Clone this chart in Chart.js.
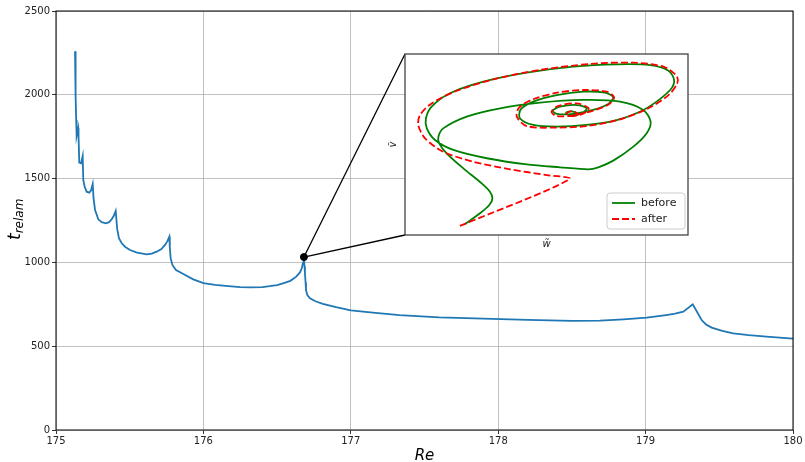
<!DOCTYPE html>
<html>
<head>
<meta charset="utf-8">
<script src="https://cdn.jsdelivr.net/npm/chart.js@4.4.0/dist/chart.umd.min.js"></script>
<style>
  body { margin: 0; background: #fff; }
  #wrap { position: relative; width: 805px; height: 462px; }
  #main { position: absolute; left: 0; top: 0; }
  #inset { position: absolute; left: 380px; top: 44px; }
</style>
</head>
<body>
<div id="wrap">
  <canvas id="main" width="805" height="462"></canvas>
  <canvas id="inset" width="315" height="210"></canvas>
</div>
<script>
// main curve: relaminarisation time vs Re
const re = [
  175.129, 175.133, 175.137, 175.140, 175.151, 175.153, 175.158, 175.170, 175.181,
  175.185, 175.195, 175.208, 175.226, 175.238, 175.249,
  175.255, 175.265, 175.287, 175.31, 175.339, 175.36, 175.378, 175.392, 175.405,
  175.415, 175.427, 175.446, 175.47, 175.502, 175.55, 175.615, 175.65, 175.683, 175.715, 175.740, 175.755, 175.769,
  175.772, 175.778, 175.79, 175.814, 175.864, 175.931, 176.0, 176.08, 176.15, 176.25, 176.32, 176.4, 176.45,
  176.5, 176.54, 176.59, 176.63, 176.655, 176.667, 176.677, 176.682,
  176.686, 176.689, 176.693, 176.696, 176.705, 176.723, 176.76, 176.81, 176.9, 177.0, 177.15, 177.33, 177.6,
  177.9, 178.2, 178.5, 178.69, 178.85, 179.007, 179.14, 179.2, 179.256, 179.32,
  179.38, 179.41, 179.448, 179.52, 179.595, 179.7, 179.82, 180.0];
const tRelam = [
  2260, 1990, 1850, 1754, 1800, 1750, 1595, 1591, 1635,
  1492, 1450, 1422, 1416, 1430, 1468,
  1380, 1313, 1257, 1240, 1233, 1240, 1257, 1278, 1307,
  1200, 1144, 1114, 1092, 1074, 1058, 1048, 1052, 1064, 1080, 1104, 1125, 1153,
  1090, 1024, 985, 955, 931, 899, 877, 866, 860, 853, 851, 853, 858,
  865, 875, 890, 915, 940, 965, 1000, 1032,
  975, 935, 880, 835, 805, 786, 768, 752, 733, 714, 700, 686, 672,
  664, 657, 651, 652, 660, 670, 686, 694, 706, 750,
  656, 630, 611, 592, 577, 566, 557, 545];

// highlighted point
const markRe = [176.682];
const markT = [1032];

// axis ticks
const xTicks = [175, 176, 177, 178, 179, 180];
const yTicks = [0, 500, 1000, 1500, 2000, 2500];

// inset: phase portrait (w~, v~), arbitrary units
const beforeW = [21.2, 26.5, 29.8, 30.9, 30.0, 27.1, 20.6, 14.7, 12.1, 11.8, 13.5, 21.8, 33.6, 47.7, 63.0, 76.0,
  84.2, 86.8, 85.4, 80.7, 73.6, 68.3, 64.8, 54.8, 43.0, 28.9, 17.1, 10.6, 7.7, 7.4, 9.4, 15.9, 27.7, 43.0,
  59.5, 74.8, 86.6, 93.1, 95.1, 93.9, 88.9, 83.0, 74.8, 64.2, 53.6, 45.3, 40.6, 40.9, 45.3, 53.6, 63.0, 70.7,
  73.6, 71.8, 66.5, 59.5, 53.6, 52.2, 54.8, 60.7, 64.2, 62.4, 58.3, 56.9, 58.9, 60.7, 59.5];
const beforeV = [6.1, 12.0, 16.6, 20.3, 23.9, 28.5, 36.8, 45.1, 50.6, 54.3, 58.9, 65.4, 70.0, 73.1, 74.6, 73.7,
  69.1, 62.6, 56.2, 48.8, 41.1, 37.4, 36.3, 37.4, 39.0, 42.4, 47.0, 52.5, 58.9, 64.5, 70.9, 78.3, 84.7, 89.7,
  93.0, 94.3, 93.9, 90.8, 85.6, 80.5, 73.7, 68.1, 63.5, 60.8, 59.9, 60.8, 64.5, 69.4, 73.7, 77.3, 79.2, 78.6,
  76.1, 72.4, 69.1, 66.9, 66.9, 68.7, 70.9, 71.8, 70.0, 67.2, 66.1, 67.6, 68.3, 67.2, 66.5];
const afterW = [19.4, 58.1, 50.1, 37.1, 24.1, 13.5, 7.1, 4.7, 5.3, 9.4, 18.3, 31.2, 47.7, 65.4, 80.7, 91.3,
  96.0, 96.2, 93.1, 86.0, 76.0, 64.2, 52.4, 43.0, 39.5, 40.4, 45.3, 53.6, 63.0, 71.3, 73.9, 72.2, 66.5,
  59.5, 53.6, 51.8, 54.2, 60.7, 64.9, 62.8, 58.3, 57.1, 59.2, 61.0, 59.7];
const afterV = [5.0, 30.8, 33.1, 36.3, 40.5, 46.0, 53.4, 60.8, 66.3, 72.7, 79.7, 86.0, 91.2, 94.5, 95.2, 93.0,
  87.8, 83.8, 77.3, 70.0, 63.9, 60.2, 59.3, 60.2, 65.4, 70.5, 75.0, 78.6, 80.1, 79.2, 76.1, 72.4, 68.7,
  66.1, 65.7, 68.1, 71.3, 72.7, 70.0, 66.9, 65.7, 67.2, 68.5, 66.9, 66.1];

const legendLabels = ['before', 'after'];

Chart.defaults.font.family = 'DejaVu Sans';
Chart.defaults.font.size = 10;
Chart.defaults.color = '#222';

// where the inset axes sit on the page
const insetBox = { left: 405, top: 54, right: 688, bottom: 235 };

const mainDecor = {
  id: 'mainDecor',
  afterDraw(chart) {
    const ctx = chart.ctx;
    const a = chart.chartArea;
    ctx.save();
    ctx.strokeStyle = '#000';
    ctx.lineWidth = 1;
    ctx.strokeRect(a.left, a.top, a.right - a.left, a.bottom - a.top);

    // lines from marked point to inset corners
    const px = chart.scales.x.getPixelForValue(markRe[0]);
    const py = chart.scales.y.getPixelForValue(markT[0]);
    ctx.lineWidth = 1.3;
    ctx.beginPath();
    ctx.moveTo(px, py); ctx.lineTo(insetBox.left, insetBox.top);
    ctx.moveTo(px, py); ctx.lineTo(insetBox.left, insetBox.bottom);
    ctx.stroke();

    // axis titles
    ctx.fillStyle = '#000';
    ctx.font = 'italic 15px DejaVu Sans';
    ctx.textAlign = 'center';
    ctx.textBaseline = 'alphabetic';
    ctx.fillText('Re', (a.left + a.right) / 2, 460);

    ctx.translate(20, 240);
    ctx.rotate(-Math.PI / 2);
    ctx.textAlign = 'left';
    ctx.font = 'italic 17px DejaVu Sans';
    ctx.fillText('t', 0, 0);
    const wt = ctx.measureText('t').width;
    ctx.font = 'italic 12px DejaVu Sans';
    ctx.fillText('relam', wt, 3);
    ctx.restore();
  }
};

new Chart(document.getElementById('main'), {
  type: 'scatter',
  data: {
    datasets: [{
      data: markRe.map((x, i) => ({ x: x, y: markT[i] })),
      backgroundColor: '#000',
      borderColor: '#000',
      pointRadius: 3.5,
      order: 0
    }, {
      data: re.map((x, i) => ({ x: x, y: tRelam[i] })),
      showLine: true,
      borderColor: '#1f77b4',
      borderWidth: 1.8,
      pointRadius: 0,
      tension: 0,
      order: 1
    }]
  },
  options: {
    responsive: false,
    animation: false,
    layout: { padding: { left: 0, right: 12, top: 11, bottom: 0 } },
    plugins: { legend: { display: false }, tooltip: { enabled: false } },
    scales: {
      x: {
        type: 'linear', min: 175, max: 180,
        afterBuildTicks: s => { s.ticks = xTicks.map(v => ({ value: v })); },
        afterFit: s => { s.height = 32; },
        grid: { color: '#b0b0b0', lineWidth: 0.8, tickColor: '#000', tickLength: 4 },
        border: { display: false },
        ticks: { padding: 1, maxRotation: 0, callback: v => String(v) }
      },
      y: {
        type: 'linear', min: 0, max: 2500,
        afterBuildTicks: s => { s.ticks = yTicks.map(v => ({ value: v })); },
        afterFit: s => { s.width = 56; },
        grid: { color: '#b0b0b0', lineWidth: 0.8, tickColor: '#000', tickLength: 4 },
        border: { display: false },
        ticks: { padding: 2, callback: v => String(v) }
      }
    }
  },
  plugins: [mainDecor]
});

const insetDecor = {
  id: 'insetDecor',
  beforeDraw(chart) {
    const ctx = chart.ctx;
    const a = chart.chartArea;
    ctx.save();
    ctx.fillStyle = '#fff';
    ctx.fillRect(a.left, a.top, a.right - a.left, a.bottom - a.top);
    ctx.restore();
  },
  afterDraw(chart) {
    const ctx = chart.ctx;
    const a = chart.chartArea;
    ctx.save();
    ctx.strokeStyle = '#444';
    ctx.lineWidth = 1.3;
    ctx.strokeRect(a.left, a.top, a.right - a.left, a.bottom - a.top);

    // axis labels
    ctx.fillStyle = '#222';
    ctx.font = 'italic 10px DejaVu Sans';
    ctx.textAlign = 'center';
    ctx.textBaseline = 'middle';
    ctx.fillText('w\u0303', (a.left + a.right) / 2, a.bottom + 9);
    ctx.save();
    ctx.translate(a.left - 12, (a.top + a.bottom) / 2);
    ctx.rotate(-Math.PI / 2);
    ctx.fillText('v\u0303', 0, 0);
    ctx.restore();

    // legend box
    const bx = a.right - 81, by = a.bottom - 42, bw = 78, bh = 36;
    ctx.fillStyle = 'rgba(255,255,255,0.8)';
    ctx.strokeStyle = '#ccc';
    ctx.lineWidth = 1;
    ctx.beginPath();
    ctx.roundRect(bx, by, bw, bh, 3);
    ctx.fill();
    ctx.stroke();

    const colors = ['#008000', '#ff0000'];
    const dashes = [[], [7, 3]];
    ctx.font = '11px DejaVu Sans';
    ctx.textAlign = 'left';
    legendLabels.forEach((lab, i) => {
      const y = by + 10 + i * 16;
      ctx.strokeStyle = colors[i];
      ctx.lineWidth = 1.8;
      ctx.setLineDash(dashes[i]);
      ctx.beginPath();
      ctx.moveTo(bx + 5, y);
      ctx.lineTo(bx + 28, y);
      ctx.stroke();
      ctx.setLineDash([]);
      ctx.fillStyle = '#222';
      ctx.fillText(lab, bx + 34, y);
    });
    ctx.restore();
  }
};

new Chart(document.getElementById('inset'), {
  type: 'scatter',
  data: {
    datasets: [{
      label: legendLabels[0],
      data: beforeW.map((x, i) => ({ x: x, y: beforeV[i] })),
      showLine: true,
      borderColor: '#008000',
      borderWidth: 1.8,
      pointRadius: 0,
      tension: 0.3,
      order: 1
    }, {
      label: legendLabels[1],
      data: afterW.map((x, i) => ({ x: x, y: afterV[i] })),
      showLine: true,
      borderColor: '#ff0000',
      borderWidth: 1.8,
      borderDash: [7, 3],
      pointRadius: 0,
      tension: 0.3,
      order: 0
    }]
  },
  options: {
    responsive: false,
    animation: false,
    layout: { padding: { left: 25, top: 10, right: 7, bottom: 19 } },
    plugins: { legend: { display: false }, tooltip: { enabled: false } },
    scales: {
      x: { type: 'linear', min: 0, max: 100, display: false },
      y: { type: 'linear', min: 0, max: 100, display: false }
    }
  },
  plugins: [insetDecor]
});
</script>
</body>
</html>
